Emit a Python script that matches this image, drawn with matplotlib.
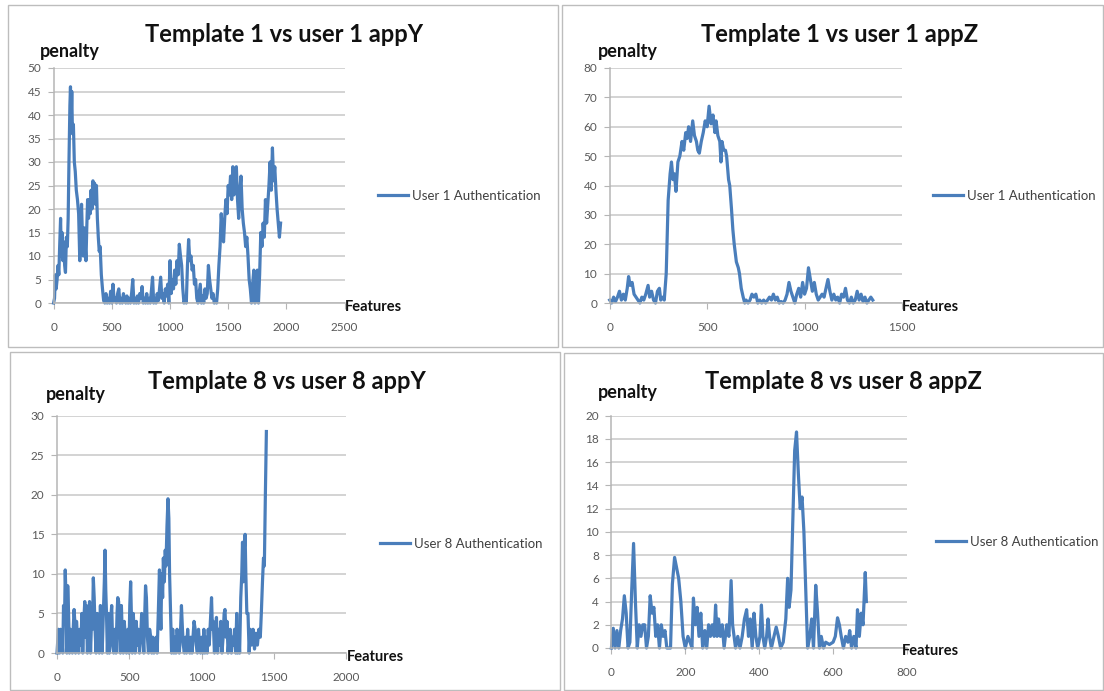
import numpy as np
import matplotlib
matplotlib.use("Agg")
import matplotlib.pyplot as plt
from matplotlib.patches import Rectangle

plt.rcParams['font.family'] = ['Lato', 'DejaVu Sans']

# (feature index, penalty)
t1_appY = [(0, 0), (8, 1), (15, 6), (22, 3), (30, 5), (38, 8), (45, 6), (52, 12), (60, 18), (66, 10),
           (72, 15), (80, 9), (88, 13), (95, 8), (102, 6.5), (110, 14), (118, 12), (125, 18), (132, 30),
           (140, 42), (145, 46), (150, 38), (156, 45), (162, 36), (170, 38), (178, 30), (186, 28),
           (195, 24), (205, 22), (215, 19), (225, 9), (232, 15), (240, 21), (248, 14), (255, 10),
           (262, 16), (270, 13), (278, 9), (285, 16), (292, 22), (300, 18), (308, 22), (315, 19),
           (322, 24), (330, 20), (338, 26), (345, 22), (352, 25.5), (360, 21), (368, 25), (376, 18),
           (384, 14), (392, 11), (400, 12), (410, 6), (420, 3), (430, 0.5), (440, 0), (450, 2), (460, 0),
           (470, 1), (480, 0), (490, 2.5), (500, 0), (510, 4), (520, 0.5), (530, 1), (540, 0), (550, 2),
           (560, 3), (570, 0), (580, 1), (590, 0), (600, 2), (610, 0.5), (620, 0), (630, 1.5), (640, 0),
           (650, 1), (660, 0), (670, 2), (680, 5), (690, 0), (700, 1), (710, 0), (720, 1.5), (730, 0),
           (740, 2), (750, 1), (760, 3.5), (770, 0), (780, 1), (790, 0), (800, 2), (810, 0), (820, 1),
           (830, 0), (840, 2.5), (850, 5.5), (860, 0), (870, 1), (880, 0), (890, 2), (900, 0.5), (910, 3),
           (920, 5.5), (930, 1), (940, 2), (950, 0), (960, 3), (970, 1.5), (980, 4), (990, 0), (1000, 9),
           (1010, 2), (1020, 5), (1030, 3), (1040, 7), (1050, 4), (1060, 9), (1070, 6), (1080, 12.5),
           (1090, 10), (1100, 8), (1110, 3), (1120, 0), (1130, 1), (1140, 0), (1150, 8), (1160, 13.5),
           (1170, 9), (1180, 10), (1190, 7), (1200, 8), (1210, 4), (1220, 5), (1230, 1), (1240, 0),
           (1250, 2), (1260, 4), (1270, 0), (1280, 1.5), (1290, 0), (1300, 3), (1310, 1), (1320, 2),
           (1330, 8), (1340, 5), (1350, 3), (1360, 1), (1370, 2), (1380, 0), (1390, 0.5), (1400, 0),
           (1410, 3), (1420, 8), (1430, 12), (1440, 19), (1450, 15), (1460, 13), (1470, 18), (1480, 22),
           (1490, 19), (1500, 25), (1510, 23), (1520, 27), (1530, 22), (1540, 29), (1550, 23), (1560, 28),
           (1570, 29), (1580, 22), (1590, 18), (1600, 24), (1610, 27), (1620, 20), (1630, 17), (1640, 15),
           (1650, 12), (1660, 14), (1670, 10), (1680, 5), (1690, 3), (1700, 0), (1710, 4), (1720, 7),
           (1730, 0), (1740, 2), (1750, 7), (1760, 0), (1770, 6), (1780, 15), (1790, 12), (1800, 17),
           (1810, 14), (1820, 22), (1830, 17), (1840, 21), (1850, 25), (1860, 30), (1870, 24), (1880, 33),
           (1890, 26), (1900, 29), (1910, 24), (1920, 20), (1930, 17), (1940, 14), (1950, 17)]

t1_appZ = [(0, 1), (10, 0), (20, 2), (30, 0.5), (40, 2), (50, 4), (60, 1), (70, 3), (80, 1), (90, 5),
           (97, 9), (105, 6), (115, 7), (125, 3), (135, 2), (145, 1), (155, 0), (165, 2), (175, 1),
           (185, 3), (197, 6), (205, 2), (215, 4), (225, 1), (235, 0), (245, 4), (255, 5), (262, 1),
           (272, 2), (280, 1), (290, 10), (300, 35), (310, 44), (317, 48), (325, 42), (332, 44),
           (340, 38), (350, 48), (360, 50), (371, 55), (380, 52), (390, 58), (397, 56), (405, 60),
           (415, 55), (426, 62), (435, 57), (445, 55), (452, 52), (460, 51), (470, 55), (480, 58),
           (490, 62), (500, 60), (510, 67), (520, 61), (530, 64), (540, 58), (546, 62), (555, 57),
           (565, 55), (571, 48), (576, 55), (585, 52), (594, 52), (600, 50), (610, 42), (616, 40),
           (625, 32), (632, 25), (639, 20), (650, 14), (660, 12), (666, 10), (675, 5), (685, 2), (693, 0),
           (700, 1), (710, 0), (720, 1), (730, 3), (740, 2), (750, 3), (760, 0), (770, 1), (780, 0),
           (790, 1), (800, 0), (810, 1), (820, 2), (830, 1), (840, 3), (850, 1), (860, 2), (870, 0),
           (880, 0.5), (890, 0), (900, 1), (910, 3), (920, 7), (930, 4), (940, 2), (950, 0), (960, 3),
           (970, 5), (980, 2), (990, 7), (1000, 3), (1010, 5), (1020, 12), (1030, 8), (1040, 4),
           (1050, 7), (1060, 3), (1070, 1), (1080, 2), (1090, 3), (1100, 2), (1110, 5), (1120, 8),
           (1130, 4), (1140, 1), (1150, 3), (1160, 1), (1170, 2), (1180, 0), (1190, 3), (1200, 2),
           (1210, 5), (1220, 1), (1230, 0), (1240, 2), (1250, 0), (1260, 1), (1270, 4), (1280, 1),
           (1290, 3), (1300, 0.5), (1310, 2), (1320, 0), (1330, 1), (1340, 2), (1350, 1)]

t8_appY = [(0, 0), (10, 3), (18, 0), (25, 3), (32, 2), (40, 0), (45, 6), (52, 4), (57, 10.5), (62, 7),
           (68, 0), (74, 8.5), (80, 5), (86, 0), (92, 3), (100, 2), (106, 0), (112, 3), (118, 5.5),
           (123, 4), (128, 0), (135, 4), (142, 2), (150, 0), (158, 3), (165, 1), (172, 5), (178, 0),
           (185, 4), (192, 6.5), (197, 2), (203, 6), (210, 0), (218, 4), (225, 6.5), (232, 0), (240, 5),
           (245, 3), (251, 9.5), (257, 7), (263, 3), (270, 0), (278, 5), (285, 2), (292, 0), (300, 6),
           (305, 2), (312, 0), (320, 5), (327, 9), (332, 13), (337, 8), (342, 5), (348, 0), (355, 5),
           (362, 0), (370, 4), (378, 6), (385, 1), (392, 0), (400, 3), (408, 0), (415, 5), (420, 7),
           (426, 6.5), (432, 2), (438, 0), (445, 6), (450, 3), (458, 0), (465, 4), (472, 2), (480, 0),
           (490, 3), (497, 0), (503, 6), (509, 9), (514, 5), (520, 0), (527, 5), (533, 3), (540, 0),
           (548, 4), (555, 1), (562, 3), (570, 0), (578, 2), (585, 5), (592, 3), (600, 0), (605, 4),
           (612, 8.5), (618, 7), (625, 2), (632, 0), (640, 3), (648, 2), (655, 0), (662, 2), (670, 0),
           (678, 1), (685, 2), (692, 0), (700, 5), (708, 10.5), (713, 6), (718, 3), (724, 10), (730, 7),
           (735, 12), (742, 9), (748, 13), (753, 11), (760, 16), (767, 19.5), (773, 17), (778, 10),
           (785, 5), (792, 0), (800, 3), (808, 0), (815, 2), (822, 0), (830, 3), (838, 1), (845, 0),
           (852, 2), (860, 6), (867, 3), (873, 1), (880, 0), (888, 2), (895, 0), (903, 3), (910, 1),
           (918, 0), (925, 2), (933, 0), (940, 2), (947, 4), (955, 3), (962, 1), (970, 0), (978, 3),
           (985, 1), (992, 0), (1000, 2), (1008, 0), (1015, 3), (1022, 0), (1030, 2), (1038, 0),
           (1045, 3), (1052, 1), (1060, 4), (1068, 7), (1074, 3), (1080, 4), (1088, 0), (1095, 2),
           (1102, 4.5), (1110, 0), (1118, 3), (1125, 1), (1132, 4), (1140, 0), (1148, 2), (1155, 5),
           (1161, 5.5), (1168, 2), (1175, 4), (1182, 0), (1190, 2), (1197, 3), (1205, 0), (1212, 2),
           (1220, 1), (1227, 3), (1235, 0), (1242, 5), (1248, 0), (1255, 3), (1262, 0), (1270, 7),
           (1277, 10), (1282, 14), (1288, 9), (1294, 13), (1300, 15), (1305, 10), (1312, 5), (1320, 5),
           (1328, 0), (1335, 3), (1345, 1), (1355, 3), (1365, 0.5), (1375, 2.5), (1385, 1), (1395, 3),
           (1405, 2), (1412, 5), (1420, 9), (1427, 12), (1433, 11), (1440, 20), (1447, 28)]

t8_appZ = [(0, 0), (5, 1.7), (10, 0), (15, 1.5), (20, 0), (25, 1.5), (30, 2.5), (35, 4.5), (40, 3),
           (45, 0), (50, 0.5), (55, 5), (60, 9), (65, 4), (70, 0), (75, 2), (80, 1), (85, 2), (90, 2),
           (95, 0), (100, 1), (105, 4.5), (110, 3), (115, 3.5), (120, 1), (125, 2), (130, 0), (135, 2),
           (140, 1), (145, 1.5), (150, 0), (160, 0), (165, 5.5), (171, 7.8), (176, 7), (182, 6),
           (188, 4), (194, 1), (200, 0), (207, 1), (213, 0.5), (218, 0), (222, 4.3), (227, 2),
           (232, 3.5), (237, 1), (242, 3), (247, 0), (253, 1.5), (258, 0), (263, 2), (268, 1), (273, 2),
           (278, 1), (282, 3.7), (286, 1), (290, 2.5), (295, 1), (300, 2), (305, 0), (312, 2), (318, 1),
           (324, 5.8), (328, 2), (332, 1), (336, 0), (342, 1), (348, 0), (354, 1), (360, 2.5),
           (366, 3.3), (371, 1), (376, 2.5), (381, 0), (386, 3), (391, 1), (396, 0), (402, 1),
           (406, 3.7), (410, 1), (415, 0), (420, 1), (424, 2.5), (428, 1), (433, 0), (440, 1),
           (446, 1.8), (452, 1), (458, 0), (465, 0.5), (472, 2.5), (477, 6), (481, 3.5), (486, 5),
           (491, 11), (496, 17), (501, 18.6), (506, 15), (511, 12), (516, 13), (521, 10), (526, 5),
           (531, 0), (537, 1), (542, 2.5), (547, 0), (553, 5.4), (558, 3), (563, 0), (568, 1), (574, 0),
           (580, 0.5), (590, 0.3), (600, 0.5), (606, 1), (612, 2.6), (617, 2), (622, 1), (628, 0),
           (634, 1), (640, 0.5), (645, 1.5), (650, 0), (656, 1), (662, 0), (666, 3.3), (671, 1),
           (676, 3), (681, 2), (687, 6.5), (690, 4)]

titles = ["Template 1 vs user 1 appY", "Template 1 vs user 1 appZ",
          "Template 8 vs user 8 appY", "Template 8 vs user 8 appZ"]
series_labels = ["User 1 Authentication", "User 1 Authentication",
                 "User 8 Authentication", "User 8 Authentication"]
series = [t1_appY, t1_appZ, t8_appY, t8_appZ]
x_max = [2500, 1500, 2000, 800]
x_step = [500, 500, 500, 200]
y_max = [50, 80, 30, 20]
y_step = [5, 10, 5, 2]

# pixel layout of each panel: frame box, plot box, text anchors
W, H = 1104, 691
layout = [
    dict(frame=(8, 5, 558, 347), plot=(53.6, 68, 344.6, 303), title=(284, 34),
         penalty=(40, 57), features=(345, 307), legend=(378, 196)),
    dict(frame=(562, 5, 1103, 347), plot=(609.7, 68, 902, 303), title=(840, 34),
         penalty=(597.5, 57), features=(902, 307), legend=(933, 196)),
    dict(frame=(10, 352, 560, 690), plot=(57, 415.7, 346.4, 653), title=(287, 382),
         penalty=(46, 400), features=(347, 657), legend=(380, 544)),
    dict(frame=(564, 353, 1103, 690), plot=(611.4, 415.7, 907, 648), title=(843, 382),
         penalty=(597.5, 398), features=(902, 651), legend=(936, 542)),
]

line_color = "#4a7ebb"
grid_color = "#c8c8c8"


def fx(px):
    return px / W


def fy(py):
    return 1 - py / H


fig = plt.figure(figsize=(W / 100, H / 100), dpi=100)

for i, lay in enumerate(layout):
    x0, y0, x1, y1 = lay["frame"]
    fig.add_artist(Rectangle((fx(x0), fy(y1)), (x1 - x0) / W, (y1 - y0) / H,
                             transform=fig.transFigure, fill=False, ec="#bdbdbd", lw=1))

    px0, py0, px1, py1 = lay["plot"]
    ax = fig.add_axes([fx(px0), fy(py1), (px1 - px0) / W, (py1 - py0) / H])
    feat, pen = np.array(series[i]).T
    ax.plot(feat, pen, color=line_color, lw=2.3, label=series_labels[i], clip_on=False)
    ax.set_xlim(0, x_max[i])
    ax.set_ylim(0, y_max[i])
    ax.set_xticks(np.arange(0, x_max[i] + 1, x_step[i]))
    ax.set_yticks(np.arange(0, y_max[i] + 1, y_step[i]))
    ax.yaxis.grid(True, color=grid_color, lw=1.1)
    ax.set_axisbelow(True)
    for s in ["top", "right"]:
        ax.spines[s].set_visible(False)
    for s in ["left", "bottom"]:
        ax.spines[s].set_color("#b5b5b5")
        ax.spines[s].set_linewidth(1.1)
    ax.tick_params(length=4, color="#b5b5b5", labelsize=8.5, labelcolor="#595959")
    ax.tick_params(axis="x", pad=10)
    ax.tick_params(axis="y", pad=5)

    tx, ty = lay["title"]
    fig.text(fx(tx), fy(ty), titles[i], ha="center", va="center",
             fontsize=17, fontweight="bold", color="#111111")
    qx, qy = lay["penalty"]
    fig.text(fx(qx), fy(qy), "penalty", ha="left", va="baseline",
             fontsize=13, fontweight="bold", color="#111111")
    fx_, fy_ = lay["features"]
    fig.text(fx(fx_), fy(fy_), "Features", ha="left", va="center",
             fontsize=10.5, fontweight="bold", color="#111111")
    lx, ly = lay["legend"]
    ax.legend(loc="center left", bbox_to_anchor=(fx(lx), fy(ly)), bbox_transform=fig.transFigure,
              frameon=False, borderpad=0, borderaxespad=0, handlelength=2.3, handletextpad=0.25,
              prop={"size": 9.5}, labelcolor="#404040")

fig.savefig("out.png", dpi=100, facecolor="white")
